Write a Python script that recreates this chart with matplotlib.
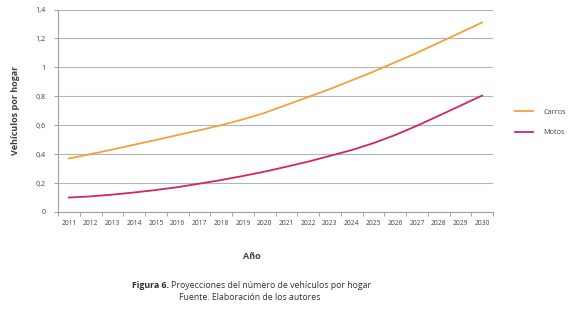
import matplotlib
matplotlib.use("Agg")
import matplotlib.pyplot as plt
import numpy as np

years = [str(y) for y in range(2011, 2031)]
carros = [0.37, 0.40, 0.432, 0.465, 0.498, 0.532, 0.565, 0.60, 0.64, 0.685,
          0.74, 0.795, 0.85, 0.91, 0.97, 1.035, 1.10, 1.17, 1.24, 1.31]
motos = [0.10, 0.108, 0.12, 0.135, 0.152, 0.172, 0.196, 0.221, 0.249, 0.279,
         0.313, 0.348, 0.388, 0.428, 0.476, 0.532, 0.596, 0.665, 0.735, 0.805]
yticks = [0, 0.2, 0.4, 0.6, 0.8, 1.0, 1.2, 1.4]
ytick_labels = ["0", "0,2", "0,4", "0,6", "0,8", "1", "1,2", "1,4"]

plt.rcParams['font.family'] = ['Open Sans', 'DejaVu Sans']

W, H = 572, 310
fig = plt.figure(figsize=(W / 100, H / 100), dpi=100)
ax = fig.add_axes([58 / W, 1 - 212 / H, (493 - 58) / W, (212 - 9.5) / H])

x = np.arange(len(years))
ax.plot(x, carros, color="#F2A23A", lw=1.3, label="Carros")
ax.plot(x, motos, color="#D2246E", lw=1.3, label="Motos")

ax.set_xlim(-0.5, len(years) - 0.5)
ax.set_ylim(0, 1.4)
ax.set_yticks(yticks)
ax.set_yticklabels(ytick_labels, fontsize=5.2, color="#404040")
ax.set_xticks(x)
ax.set_xticklabels(years, fontsize=4.8, color="#404040")
ax.set_xticks(np.arange(-0.5, len(years)), minor=True)
ax.tick_params(axis="x", which="major", length=0, pad=6)
ax.tick_params(axis="x", which="minor", length=3, color="#A0A0A0", width=0.7)
ax.tick_params(axis="y", length=3, color="#A0A0A0", width=0.7, pad=6)

ax.grid(axis="y", color="#B4B4B4", lw=0.8)
ax.set_axisbelow(True)
for s in ["top", "right"]:
    ax.spines[s].set_visible(False)
for s in ["left", "bottom"]:
    ax.spines[s].set_color("#A0A0A0")
    ax.spines[s].set_linewidth(0.8)

ax.set_ylabel("Vehículos por hogar", fontsize=6.5, fontweight="bold", color="#404040")
ax.yaxis.set_label_coords(-38 / (493 - 58), 0.5)
ax.set_xlabel("Año", fontsize=6.5, fontweight="bold", color="#404040")
ax.xaxis.set_label_coords((252 - 58) / (493 - 58), -(252 - 212) / (212 - 9.5))

leg = fig.legend(loc="center left", bbox_to_anchor=(508 / W, 1 - 122.5 / H),
                 frameon=False, fontsize=5.2, handlelength=2.6, labelspacing=1.9,
                 handletextpad=1.4)
for t in leg.get_texts():
    t.set_color("#404040")

t1 = fig.text(132 / W, 1 - 285 / H, "Figura 6.", fontsize=6.3, fontweight="bold",
              ha="left", va="center", color="#303030")
fig.canvas.draw()
bb = t1.get_window_extent()
fig.text(bb.x1 / W + 2 / W, 1 - 285 / H, "Proyecciones del número de vehículos por hogar",
         fontsize=6.3, ha="left", va="center", color="#303030")
fig.text(250 / W, 1 - 298 / H, "Fuente. Elaboración de los autores",
         fontsize=6.3, ha="center", va="center", color="#303030")

fig.savefig("out.png", dpi=100, facecolor="white")
